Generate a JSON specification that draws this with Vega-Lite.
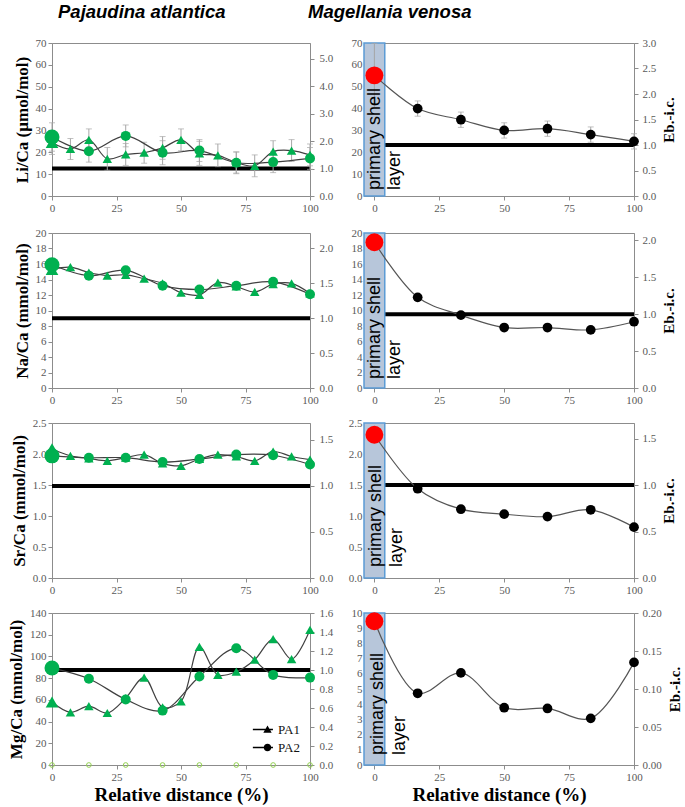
{
  "$schema": "https://vega.github.io/schema/vega-lite/v6.json",
  "background": "white",
  "padding": {"left": 6, "top": 2, "right": 0, "bottom": 0},
  "datasets": {
    "pa": [
      {"el":"Li","s":"PA1","x":0,"v":24.5,"lo":19,"hi":30},
      {"el":"Li","s":"PA1","x":7.14,"v":21.5,"lo":16.7,"hi":26.3},
      {"el":"Li","s":"PA1","x":14.29,"v":25.7,"lo":20.7,"hi":30.7},
      {"el":"Li","s":"PA1","x":21.43,"v":17,"lo":11.8,"hi":22.2},
      {"el":"Li","s":"PA1","x":28.57,"v":19,"lo":14,"hi":24},
      {"el":"Li","s":"PA1","x":35.71,"v":19.8,"lo":15,"hi":24.6},
      {"el":"Li","s":"PA1","x":42.86,"v":22,"lo":16.8,"hi":27.2},
      {"el":"Li","s":"PA1","x":50,"v":25.7,"lo":20.7,"hi":30.7},
      {"el":"Li","s":"PA1","x":57.14,"v":19.5,"lo":14,"hi":25},
      {"el":"Li","s":"PA1","x":64.29,"v":18.6,"lo":13.4,"hi":23.8},
      {"el":"Li","s":"PA1","x":71.43,"v":15.3,"lo":10.5,"hi":20.1},
      {"el":"Li","s":"PA1","x":78.57,"v":13.8,"lo":8.8,"hi":18.8},
      {"el":"Li","s":"PA1","x":85.71,"v":20.3,"lo":15.3,"hi":25.3},
      {"el":"Li","s":"PA1","x":92.86,"v":20.8,"lo":15.8,"hi":25.8},
      {"el":"Li","s":"PA1","x":100,"v":18.8,"lo":13.8,"hi":23.8},
      {"el":"Li","s":"PA2","x":0,"v":27,"lo":20.5,"hi":33.5},
      {"el":"Li","s":"PA2","x":14.29,"v":20.5,"lo":15.5,"hi":25.5},
      {"el":"Li","s":"PA2","x":28.57,"v":27.5,"lo":22.5,"hi":32.5},
      {"el":"Li","s":"PA2","x":42.86,"v":19.8,"lo":14.3,"hi":25.3},
      {"el":"Li","s":"PA2","x":57.14,"v":20.8,"lo":15.8,"hi":25.8},
      {"el":"Li","s":"PA2","x":71.43,"v":15.2,"lo":10.2,"hi":20.2},
      {"el":"Li","s":"PA2","x":85.71,"v":15.5,"lo":10.7,"hi":20.3},
      {"el":"Li","s":"PA2","x":100,"v":17.2,"lo":12.2,"hi":22.2},
      {"el":"Na","s":"PA1","x":0,"v":15.3},
      {"el":"Na","s":"PA1","x":7.14,"v":15.6},
      {"el":"Na","s":"PA1","x":14.29,"v":14.9},
      {"el":"Na","s":"PA1","x":21.43,"v":14.5},
      {"el":"Na","s":"PA1","x":28.57,"v":14.6},
      {"el":"Na","s":"PA1","x":35.71,"v":14.1},
      {"el":"Na","s":"PA1","x":42.86,"v":13.5},
      {"el":"Na","s":"PA1","x":50,"v":12.3},
      {"el":"Na","s":"PA1","x":57.14,"v":12.0},
      {"el":"Na","s":"PA1","x":64.29,"v":13.6},
      {"el":"Na","s":"PA1","x":71.43,"v":13.1},
      {"el":"Na","s":"PA1","x":78.57,"v":12.4},
      {"el":"Na","s":"PA1","x":85.71,"v":13.4},
      {"el":"Na","s":"PA1","x":92.86,"v":13.5},
      {"el":"Na","s":"PA1","x":100,"v":12.2},
      {"el":"Na","s":"PA2","x":0,"v":15.9},
      {"el":"Na","s":"PA2","x":14.29,"v":14.5},
      {"el":"Na","s":"PA2","x":28.57,"v":15.2},
      {"el":"Na","s":"PA2","x":42.86,"v":13.2},
      {"el":"Na","s":"PA2","x":57.14,"v":12.7},
      {"el":"Na","s":"PA2","x":71.43,"v":13.2},
      {"el":"Na","s":"PA2","x":85.71,"v":13.7},
      {"el":"Na","s":"PA2","x":100,"v":12.1},
      {"el":"Sr","s":"PA1","x":0,"v":2.08},
      {"el":"Sr","s":"PA1","x":7.14,"v":1.97},
      {"el":"Sr","s":"PA1","x":14.29,"v":1.93},
      {"el":"Sr","s":"PA1","x":21.43,"v":1.89},
      {"el":"Sr","s":"PA1","x":28.57,"v":1.94},
      {"el":"Sr","s":"PA1","x":35.71,"v":1.99},
      {"el":"Sr","s":"PA1","x":42.86,"v":1.85},
      {"el":"Sr","s":"PA1","x":50,"v":1.81},
      {"el":"Sr","s":"PA1","x":57.14,"v":1.92},
      {"el":"Sr","s":"PA1","x":64.29,"v":1.99},
      {"el":"Sr","s":"PA1","x":71.43,"v":1.96},
      {"el":"Sr","s":"PA1","x":78.57,"v":1.89},
      {"el":"Sr","s":"PA1","x":85.71,"v":2.04},
      {"el":"Sr","s":"PA1","x":92.86,"v":1.96},
      {"el":"Sr","s":"PA1","x":100,"v":1.91},
      {"el":"Sr","s":"PA2","x":0,"v":1.97},
      {"el":"Sr","s":"PA2","x":14.29,"v":1.94},
      {"el":"Sr","s":"PA2","x":28.57,"v":1.94},
      {"el":"Sr","s":"PA2","x":42.86,"v":1.87},
      {"el":"Sr","s":"PA2","x":57.14,"v":1.92},
      {"el":"Sr","s":"PA2","x":71.43,"v":1.99},
      {"el":"Sr","s":"PA2","x":85.71,"v":1.98},
      {"el":"Sr","s":"PA2","x":100,"v":1.83},
      {"el":"Mg","s":"PA1","x":0,"v":58},
      {"el":"Mg","s":"PA1","x":7.14,"v":48.5},
      {"el":"Mg","s":"PA1","x":14.29,"v":54.2},
      {"el":"Mg","s":"PA1","x":21.43,"v":47.9},
      {"el":"Mg","s":"PA1","x":28.57,"v":61.7},
      {"el":"Mg","s":"PA1","x":35.71,"v":80.5},
      {"el":"Mg","s":"PA1","x":42.86,"v":53.2},
      {"el":"Mg","s":"PA1","x":50,"v":58.6},
      {"el":"Mg","s":"PA1","x":57.14,"v":108.7},
      {"el":"Mg","s":"PA1","x":64.29,"v":83},
      {"el":"Mg","s":"PA1","x":71.43,"v":86},
      {"el":"Mg","s":"PA1","x":78.57,"v":97},
      {"el":"Mg","s":"PA1","x":85.71,"v":116},
      {"el":"Mg","s":"PA1","x":92.86,"v":97.5},
      {"el":"Mg","s":"PA1","x":100,"v":124.5},
      {"el":"Mg","s":"PA2","x":0,"v":89.3},
      {"el":"Mg","s":"PA2","x":14.29,"v":79.5},
      {"el":"Mg","s":"PA2","x":28.57,"v":60.4},
      {"el":"Mg","s":"PA2","x":42.86,"v":50.1},
      {"el":"Mg","s":"PA2","x":57.14,"v":81.5},
      {"el":"Mg","s":"PA2","x":71.43,"v":107.5},
      {"el":"Mg","s":"PA2","x":85.71,"v":83},
      {"el":"Mg","s":"PA2","x":100,"v":80.5}
    ],
    "mgzero": [
      {"x":0,"v":0},{"x":14.29,"v":0},{"x":28.57,"v":0},{"x":42.86,"v":0},
      {"x":57.14,"v":0},{"x":71.43,"v":0},{"x":85.71,"v":0},{"x":100,"v":0}
    ],
    "mv": [
      {"el":"Li","x":0,"v":55.2,"lo":40.5,"hi":69.8},
      {"el":"Li","x":16.67,"v":40,"lo":36.5,"hi":43.5},
      {"el":"Li","x":33.33,"v":34.9,"lo":31.4,"hi":38.4},
      {"el":"Li","x":50,"v":30,"lo":26.5,"hi":33.5},
      {"el":"Li","x":66.67,"v":30.8,"lo":27.3,"hi":34.3},
      {"el":"Li","x":83.33,"v":28.1,"lo":24.6,"hi":31.6},
      {"el":"Li","x":100,"v":25,"lo":21.5,"hi":28.5},
      {"el":"Na","x":0,"v":18.8},
      {"el":"Na","x":16.67,"v":11.7},
      {"el":"Na","x":33.33,"v":9.4},
      {"el":"Na","x":50,"v":7.8},
      {"el":"Na","x":66.67,"v":7.8},
      {"el":"Na","x":83.33,"v":7.5},
      {"el":"Na","x":100,"v":8.55},
      {"el":"Sr","x":0,"v":2.31},
      {"el":"Sr","x":16.67,"v":1.44},
      {"el":"Sr","x":33.33,"v":1.11},
      {"el":"Sr","x":50,"v":1.03},
      {"el":"Sr","x":66.67,"v":0.99},
      {"el":"Sr","x":83.33,"v":1.10},
      {"el":"Sr","x":100,"v":0.82},
      {"el":"Mg","x":0,"v":9.46},
      {"el":"Mg","x":16.67,"v":4.72},
      {"el":"Mg","x":33.33,"v":6.06},
      {"el":"Mg","x":50,"v":3.77},
      {"el":"Mg","x":66.67,"v":3.72},
      {"el":"Mg","x":83.33,"v":3.07},
      {"el":"Mg","x":100,"v":6.75}
    ],
    "eline": [{"E": 1}],
    "box": [{"x0": -4, "x1": 4}],
    "lab1": [{"t": "primary shell"}],
    "lab2": [{"t": "layer"}]
  },
  "bounds": "flush",
  "align": "all",
  "columns": 2,
  "spacing": {"row": 35, "column": 42},
  "resolve": {"scale": {"shape": "independent"}, "legend": {"shape": "independent"}},
  "concat": [
    {
      "width": 258, "height": 153,
      "title": {"text": "Pajaudina atlantica", "anchor": "start", "frame": "group", "dx": 6, "offset": 16},
      "layer": [
        {"data": {"name": "eline"}, "mark": {"type": "rule", "color": "#000", "strokeWidth": 4, "clip": true},
         "encoding": {"y": {"field": "E", "type": "quantitative", "scale": {"domain": [0, 5.57], "nice": false}, "axis": {"orient": "right", "values": [0,1,2,3,4,5], "format": ".1f", "title": null, "labelPadding": 5, "tickCount": 50}}}},
        {"data": {"name": "pa"}, "transform": [{"filter": "datum.el === 'Li'"}],
         "encoding": {"x": {"field": "x", "type": "quantitative", "scale": {"domain": [0, 100], "nice": false}, "axis": {"values": [0,25,50,75,100], "format": "d", "title": null, "tickCount": 50}}},
         "layer": [
           {"mark": {"type": "errorbar", "color": "#a6a6a6", "ticks": {"size": 6}}, "encoding": {"y": {"field": "lo", "type": "quantitative", "title": "Li/Ca (µmol/mol)"}, "y2": {"field": "hi"}}},
           {"mark": {"type": "line", "interpolate": "catmull-rom", "color": "#404040", "strokeWidth": 1.2}, "encoding": {"y": {"field": "v", "type": "quantitative", "title": "Li/Ca (µmol/mol)", "scale": {"domain": [0, 70], "nice": false}, "axis": {"orient": "left", "values": [0,10,20,30,40,50,60,70], "format": "d", "tickCount": 50}}, "detail": {"field": "s"}}},
           {"transform": [{"filter": "datum.s === 'PA1' && datum.x > 0"}], "mark": {"type": "point", "shape": "triangle-up", "filled": true, "color": "#00b050", "opacity": 1, "size": 90}, "encoding": {"y": {"field": "v", "type": "quantitative", "title": "Li/Ca (µmol/mol)"}}},
           {"transform": [{"filter": "datum.s === 'PA2' && datum.x > 0"}], "mark": {"type": "point", "shape": "circle", "filled": true, "color": "#00b050", "opacity": 1, "size": 100}, "encoding": {"y": {"field": "v", "type": "quantitative", "title": "Li/Ca (µmol/mol)"}}},
           {"transform": [{"filter": "datum.s === 'PA1' && datum.x === 0"}], "mark": {"type": "point", "shape": "triangle-up", "filled": true, "color": "#00b050", "opacity": 1, "size": 160}, "encoding": {"y": {"field": "v", "type": "quantitative", "title": "Li/Ca (µmol/mol)"}}},
           {"transform": [{"filter": "datum.s === 'PA2' && datum.x === 0"}], "mark": {"type": "point", "shape": "circle", "filled": true, "color": "#00b050", "opacity": 1, "size": 225}, "encoding": {"y": {"field": "v", "type": "quantitative", "title": "Li/Ca (µmol/mol)"}}}
         ]}
      ],
      "resolve": {"scale": {"y": "independent"}}
    },
    {
      "width": 270, "height": 153,
      "title": {"text": "Magellania venosa", "anchor": "start", "frame": "group", "dx": -56, "offset": 16},
      "layer": [
        {"data": {"name": "eline"}, "mark": {"type": "rule", "color": "#000", "strokeWidth": 4, "clip": true},
         "encoding": {"y": {"field": "E", "type": "quantitative", "scale": {"domain": [0, 3], "nice": false}, "axis": {"orient": "right", "values": [0,0.5,1,1.5,2,2.5,3], "format": ".1f", "title": "Eb.-i.c.", "titleAngle": 270, "titleBaseline": "top", "titleFontSize": 15, "titlePadding": 6, "labelPadding": 4, "tickCount": 50}}}},
        {"layer": [
          {"data": {"name": "box"}, "mark": {"type": "rect", "fill": "#b7c6da", "stroke": "#5b9bd5", "strokeWidth": 1.5}, "encoding": {"x": {"field": "x0", "type": "quantitative", "scale": {"domain": [-4, 100], "nice": false, "zero": false}, "axis": {"values": [0,25,50,75,100], "format": "d", "title": null, "tickCount": 50}}, "x2": {"field": "x1"}}},
          {"data": {"name": "mv"}, "transform": [{"filter": "datum.el === 'Li'"}],
           "encoding": {"x": {"field": "x", "type": "quantitative"}},
           "layer": [
             {"mark": {"type": "errorbar", "color": "#a6a6a6", "ticks": {"size": 6}}, "encoding": {"y": {"field": "lo", "type": "quantitative", "title": null}, "y2": {"field": "hi"}}},
             {"mark": {"type": "line", "interpolate": "catmull-rom", "color": "#555", "strokeWidth": 1.2}, "encoding": {"y": {"field": "v", "type": "quantitative", "title": null, "scale": {"domain": [0, 70], "nice": false}, "axis": {"orient": "left", "values": [0,10,20,30,40,50,60,70], "format": "d", "ticks": false, "labelPadding": 2, "tickCount": 50}}}},
             {"transform": [{"filter": "datum.x > 0"}], "mark": {"type": "point", "shape": "circle", "filled": true, "color": "#000", "opacity": 1, "size": 95}, "encoding": {"y": {"field": "v", "type": "quantitative", "title": null}}},
             {"transform": [{"filter": "datum.x === 0"}], "mark": {"type": "point", "shape": "circle", "filled": true, "color": "#ff0000", "opacity": 1, "size": 320}, "encoding": {"y": {"field": "v", "type": "quantitative", "title": null}}}
           ]},
          {"data": {"name": "lab1"}, "mark": {"type": "text", "angle": 270, "align": "left", "baseline": "middle", "font": "Liberation Sans", "fontSize": 18, "color": "#000", "dx": 6, "dy": 1}, "encoding": {"x": {"datum": 0, "type": "quantitative"}, "y": {"datum": 0, "type": "quantitative"}, "text": {"field": "t"}}},
          {"data": {"name": "lab2"}, "mark": {"type": "text", "angle": 270, "align": "left", "baseline": "middle", "font": "Liberation Sans", "fontSize": 18, "color": "#000", "dx": 6, "dy": 21}, "encoding": {"x": {"datum": 0, "type": "quantitative"}, "y": {"datum": 0, "type": "quantitative"}, "text": {"field": "t"}}}
        ]}
      ],
      "resolve": {"scale": {"y": "independent"}}
    },
    {
      "width": 258, "height": 155,
      "layer": [
        {"data": {"name": "eline"}, "mark": {"type": "rule", "color": "#000", "strokeWidth": 4, "clip": true},
         "encoding": {"y": {"field": "E", "type": "quantitative", "scale": {"domain": [0, 2.22], "nice": false}, "axis": {"orient": "right", "values": [0,0.5,1,1.5,2], "format": ".1f", "title": null, "labelPadding": 5, "tickCount": 50}}}},
        {"data": {"name": "pa"}, "transform": [{"filter": "datum.el === 'Na'"}],
         "encoding": {"x": {"field": "x", "type": "quantitative", "scale": {"domain": [0, 100], "nice": false}, "axis": {"values": [0,25,50,75,100], "format": "d", "title": null, "tickCount": 50}}},
         "layer": [
           {"mark": {"type": "line", "interpolate": "catmull-rom", "color": "#404040", "strokeWidth": 1.2}, "encoding": {"y": {"field": "v", "type": "quantitative", "title": "Na/Ca (mmol/mol)", "scale": {"domain": [0, 20], "nice": false}, "axis": {"orient": "left", "values": [0,2,4,6,8,10,12,14,16,18,20], "format": "d", "tickCount": 50}}, "detail": {"field": "s"}}},
           {"transform": [{"filter": "datum.s === 'PA1' && datum.x > 0"}], "mark": {"type": "point", "shape": "triangle-up", "filled": true, "color": "#00b050", "opacity": 1, "size": 90}, "encoding": {"y": {"field": "v", "type": "quantitative", "title": "Na/Ca (mmol/mol)"}}},
           {"transform": [{"filter": "datum.s === 'PA2' && datum.x > 0"}], "mark": {"type": "point", "shape": "circle", "filled": true, "color": "#00b050", "opacity": 1, "size": 100}, "encoding": {"y": {"field": "v", "type": "quantitative", "title": "Na/Ca (mmol/mol)"}}},
           {"transform": [{"filter": "datum.s === 'PA1' && datum.x === 0"}], "mark": {"type": "point", "shape": "triangle-up", "filled": true, "color": "#00b050", "opacity": 1, "size": 160}, "encoding": {"y": {"field": "v", "type": "quantitative", "title": "Na/Ca (mmol/mol)"}}},
           {"transform": [{"filter": "datum.s === 'PA2' && datum.x === 0"}], "mark": {"type": "point", "shape": "circle", "filled": true, "color": "#00b050", "opacity": 1, "size": 225}, "encoding": {"y": {"field": "v", "type": "quantitative", "title": "Na/Ca (mmol/mol)"}}}
         ]}
      ],
      "resolve": {"scale": {"y": "independent"}}
    },
    {
      "width": 270, "height": 155,
      "layer": [
        {"data": {"name": "eline"}, "mark": {"type": "rule", "color": "#000", "strokeWidth": 4, "clip": true},
         "encoding": {"y": {"field": "E", "type": "quantitative", "scale": {"domain": [0, 2.1], "nice": false}, "axis": {"orient": "right", "values": [0,0.5,1,1.5,2], "format": ".1f", "title": "Eb.-i.c.", "titleAngle": 270, "titleBaseline": "top", "titleFontSize": 15, "titlePadding": 6, "labelPadding": 4, "tickCount": 50}}}},
        {"layer": [
          {"data": {"name": "box"}, "mark": {"type": "rect", "fill": "#b7c6da", "stroke": "#5b9bd5", "strokeWidth": 1.5}, "encoding": {"x": {"field": "x0", "type": "quantitative", "scale": {"domain": [-4, 100], "nice": false, "zero": false}, "axis": {"values": [0,25,50,75,100], "format": "d", "title": null, "tickCount": 50}}, "x2": {"field": "x1"}}},
          {"data": {"name": "mv"}, "transform": [{"filter": "datum.el === 'Na'"}],
           "encoding": {"x": {"field": "x", "type": "quantitative"}},
           "layer": [
             {"mark": {"type": "line", "interpolate": "catmull-rom", "color": "#555", "strokeWidth": 1.2}, "encoding": {"y": {"field": "v", "type": "quantitative", "title": null, "scale": {"domain": [0, 20], "nice": false}, "axis": {"orient": "left", "values": [0,2,4,6,8,10,12,14,16,18,20], "format": "d", "ticks": false, "labelPadding": 2, "tickCount": 50}}}},
             {"transform": [{"filter": "datum.x > 0"}], "mark": {"type": "point", "shape": "circle", "filled": true, "color": "#000", "opacity": 1, "size": 95}, "encoding": {"y": {"field": "v", "type": "quantitative", "title": null}}},
             {"transform": [{"filter": "datum.x === 0"}], "mark": {"type": "point", "shape": "circle", "filled": true, "color": "#ff0000", "opacity": 1, "size": 320}, "encoding": {"y": {"field": "v", "type": "quantitative", "title": null}}}
           ]},
          {"data": {"name": "lab1"}, "mark": {"type": "text", "angle": 270, "align": "left", "baseline": "middle", "font": "Liberation Sans", "fontSize": 18, "color": "#000", "dx": 9, "dy": 1}, "encoding": {"x": {"datum": 0, "type": "quantitative"}, "y": {"datum": 0, "type": "quantitative"}, "text": {"field": "t"}}},
          {"data": {"name": "lab2"}, "mark": {"type": "text", "angle": 270, "align": "left", "baseline": "middle", "font": "Liberation Sans", "fontSize": 18, "color": "#000", "dx": 9, "dy": 21}, "encoding": {"x": {"datum": 0, "type": "quantitative"}, "y": {"datum": 0, "type": "quantitative"}, "text": {"field": "t"}}}
        ]}
      ],
      "resolve": {"scale": {"y": "independent"}}
    },
    {
      "width": 258, "height": 155,
      "layer": [
        {"data": {"name": "eline"}, "mark": {"type": "rule", "color": "#000", "strokeWidth": 4, "clip": true},
         "encoding": {"y": {"field": "E", "type": "quantitative", "scale": {"domain": [0, 1.684], "nice": false}, "axis": {"orient": "right", "values": [0,0.5,1,1.5], "format": ".1f", "title": null, "labelPadding": 5, "tickCount": 50}}}},
        {"data": {"name": "pa"}, "transform": [{"filter": "datum.el === 'Sr'"}],
         "encoding": {"x": {"field": "x", "type": "quantitative", "scale": {"domain": [0, 100], "nice": false}, "axis": {"values": [0,25,50,75,100], "format": "d", "title": null, "tickCount": 50}}},
         "layer": [
           {"mark": {"type": "line", "interpolate": "catmull-rom", "color": "#404040", "strokeWidth": 1.2}, "encoding": {"y": {"field": "v", "type": "quantitative", "title": "Sr/Ca (mmol/mol)", "scale": {"domain": [0, 2.5], "nice": false}, "axis": {"orient": "left", "values": [0,0.5,1,1.5,2,2.5], "format": ".1f", "tickCount": 50}}, "detail": {"field": "s"}}},
           {"transform": [{"filter": "datum.s === 'PA1' && datum.x > 0"}], "mark": {"type": "point", "shape": "triangle-up", "filled": true, "color": "#00b050", "opacity": 1, "size": 90}, "encoding": {"y": {"field": "v", "type": "quantitative", "title": "Sr/Ca (mmol/mol)"}}},
           {"transform": [{"filter": "datum.s === 'PA2' && datum.x > 0"}], "mark": {"type": "point", "shape": "circle", "filled": true, "color": "#00b050", "opacity": 1, "size": 100}, "encoding": {"y": {"field": "v", "type": "quantitative", "title": "Sr/Ca (mmol/mol)"}}},
           {"transform": [{"filter": "datum.s === 'PA2' && datum.x === 0"}], "mark": {"type": "point", "shape": "circle", "filled": true, "color": "#00b050", "opacity": 1, "size": 225}, "encoding": {"y": {"field": "v", "type": "quantitative", "title": "Sr/Ca (mmol/mol)"}}},
           {"transform": [{"filter": "datum.s === 'PA1' && datum.x === 0"}], "mark": {"type": "point", "shape": "triangle-up", "filled": true, "color": "#00b050", "opacity": 1, "size": 180}, "encoding": {"y": {"field": "v", "type": "quantitative", "title": "Sr/Ca (mmol/mol)"}}}
         ]}
      ],
      "resolve": {"scale": {"y": "independent"}}
    },
    {
      "width": 270, "height": 155,
      "layer": [
        {"data": {"name": "eline"}, "mark": {"type": "rule", "color": "#000", "strokeWidth": 4, "clip": true},
         "encoding": {"y": {"field": "E", "type": "quantitative", "scale": {"domain": [0, 1.667], "nice": false}, "axis": {"orient": "right", "values": [0,0.5,1,1.5], "format": ".1f", "title": "Eb.-i.c.", "titleAngle": 270, "titleBaseline": "top", "titleFontSize": 15, "titlePadding": 6, "labelPadding": 4, "tickCount": 50}}}},
        {"layer": [
          {"data": {"name": "box"}, "mark": {"type": "rect", "fill": "#b7c6da", "stroke": "#5b9bd5", "strokeWidth": 1.5}, "encoding": {"x": {"field": "x0", "type": "quantitative", "scale": {"domain": [-4, 100], "nice": false, "zero": false}, "axis": {"values": [0,25,50,75,100], "format": "d", "title": null, "tickCount": 50}}, "x2": {"field": "x1"}}},
          {"data": {"name": "mv"}, "transform": [{"filter": "datum.el === 'Sr'"}],
           "encoding": {"x": {"field": "x", "type": "quantitative"}},
           "layer": [
             {"mark": {"type": "line", "interpolate": "catmull-rom", "color": "#555", "strokeWidth": 1.2}, "encoding": {"y": {"field": "v", "type": "quantitative", "title": null, "scale": {"domain": [0, 2.5], "nice": false}, "axis": {"orient": "left", "values": [0,0.5,1,1.5,2,2.5], "format": ".1f", "ticks": false, "labelPadding": 2, "tickCount": 50}}}},
             {"transform": [{"filter": "datum.x > 0"}], "mark": {"type": "point", "shape": "circle", "filled": true, "color": "#000", "opacity": 1, "size": 95}, "encoding": {"y": {"field": "v", "type": "quantitative", "title": null}}},
             {"transform": [{"filter": "datum.x === 0"}], "mark": {"type": "point", "shape": "circle", "filled": true, "color": "#ff0000", "opacity": 1, "size": 320}, "encoding": {"y": {"field": "v", "type": "quantitative", "title": null}}}
           ]},
          {"data": {"name": "lab1"}, "mark": {"type": "text", "angle": 270, "align": "left", "baseline": "middle", "font": "Liberation Sans", "fontSize": 18, "color": "#000", "dx": 11, "dy": 2}, "encoding": {"x": {"datum": 0, "type": "quantitative"}, "y": {"datum": 0, "type": "quantitative"}, "text": {"field": "t"}}},
          {"data": {"name": "lab2"}, "mark": {"type": "text", "angle": 270, "align": "left", "baseline": "middle", "font": "Liberation Sans", "fontSize": 18, "color": "#000", "dx": 11, "dy": 23}, "encoding": {"x": {"datum": 0, "type": "quantitative"}, "y": {"datum": 0, "type": "quantitative"}, "text": {"field": "t"}}}
        ]}
      ],
      "resolve": {"scale": {"y": "independent"}}
    },
    {
      "width": 258, "height": 152,
      "layer": [
        {"data": {"name": "eline"}, "mark": {"type": "rule", "color": "#000", "strokeWidth": 4, "clip": true},
         "encoding": {"y": {"field": "E", "type": "quantitative", "scale": {"domain": [0, 1.6], "nice": false}, "axis": {"orient": "right", "values": [0,0.2,0.4,0.6,0.8,1,1.2,1.4,1.6], "format": ".1f", "title": null, "labelPadding": 5, "tickCount": 50}}}},
        {"data": {"name": "pa"}, "transform": [{"filter": "datum.el === 'Mg'"}],
         "encoding": {"x": {"field": "x", "type": "quantitative", "scale": {"domain": [0, 100], "nice": false}, "axis": {"values": [0,25,50,75,100], "format": "d", "title": "Relative distance (%)", "titleFontSize": 19, "titlePadding": 3, "tickCount": 50}}},
         "layer": [
           {"mark": {"type": "line", "interpolate": "catmull-rom", "color": "#404040", "strokeWidth": 1.2}, "encoding": {"y": {"field": "v", "type": "quantitative", "title": "Mg/Ca (mmol/mol)", "scale": {"domain": [0, 140], "nice": false}, "axis": {"orient": "left", "values": [0,20,40,60,80,100,120,140], "format": "d", "tickCount": 50}}, "detail": {"field": "s"}}},
           {"data": {"name": "mgzero"}, "mark": {"type": "point", "shape": "circle", "filled": false, "color": "#92d050", "opacity": 1, "size": 22, "strokeWidth": 1}, "encoding": {"x": {"field": "x", "type": "quantitative"}, "y": {"field": "v", "type": "quantitative", "title": "Mg/Ca (mmol/mol)"}}},
           {"transform": [{"filter": "datum.s === 'PA1' && datum.x > 0"}], "mark": {"type": "point", "shape": "triangle-up", "filled": true, "color": "#00b050", "opacity": 1, "size": 90}, "encoding": {"y": {"field": "v", "type": "quantitative", "title": "Mg/Ca (mmol/mol)"}}},
           {"transform": [{"filter": "datum.s === 'PA2' && datum.x > 0"}], "mark": {"type": "point", "shape": "circle", "filled": true, "color": "#00b050", "opacity": 1, "size": 100}, "encoding": {"y": {"field": "v", "type": "quantitative", "title": "Mg/Ca (mmol/mol)"}}},
           {"transform": [{"filter": "datum.s === 'PA1' && datum.x === 0"}], "mark": {"type": "point", "shape": "triangle-up", "filled": true, "color": "#00b050", "opacity": 1, "size": 160}, "encoding": {"y": {"field": "v", "type": "quantitative", "title": "Mg/Ca (mmol/mol)"}}},
           {"transform": [{"filter": "datum.s === 'PA2' && datum.x === 0"}], "mark": {"type": "point", "shape": "circle", "filled": true, "color": "#00b050", "opacity": 1, "size": 225}, "encoding": {"y": {"field": "v", "type": "quantitative", "title": "Mg/Ca (mmol/mol)"}}},
           {"transform": [{"filter": "datum.x < 0"}], "mark": {"type": "point", "filled": true, "color": "#000", "opacity": 1, "size": 70},
            "encoding": {"y": {"field": "v", "type": "quantitative", "title": "Mg/Ca (mmol/mol)"},
              "shape": {"field": "s", "type": "nominal",
                "scale": {"domain": ["PA1", "PA2"], "range": ["M-3.5,-0.16L1.3,-0.16L1.3,0.16L-3.5,0.16ZM-1,0.8L0,-0.95L1,0.8Z", "M-3.5,-0.16L1.3,-0.16L1.3,0.16L-3.5,0.16ZM0.9,0A0.9,0.9,0,1,1,-0.9,0A0.9,0.9,0,1,1,0.9,0Z"]},
                "legend": {"title": null, "orient": "bottom-right", "offset": 10, "padding": 0, "labelFont": "Liberation Serif", "labelFontSize": 13, "labelColor": "#111", "symbolSize": 70, "symbolFillColor": "#000", "symbolStrokeColor": "#000", "symbolStrokeWidth": 0.5, "symbolOpacity": 1, "rowPadding": 4, "labelOffset": 4}}}}
         ]}
      ],
      "resolve": {"scale": {"y": "independent"}}
    },
    {
      "width": 270, "height": 152,
      "layer": [
        {"data": {"name": "eline"}, "mark": {"type": "rule", "color": "#000", "strokeWidth": 4, "clip": true},
         "encoding": {"y": {"field": "E", "type": "quantitative", "scale": {"domain": [0, 0.2], "nice": false}, "axis": {"orient": "right", "values": [0,0.05,0.1,0.15,0.2], "format": ".2f", "title": "Eb.-i.c.", "titleAngle": 270, "titleBaseline": "top", "titleFontSize": 15, "titlePadding": 6, "labelPadding": 4, "tickCount": 50}}}},
        {"layer": [
          {"data": {"name": "box"}, "mark": {"type": "rect", "fill": "#b7c6da", "stroke": "#5b9bd5", "strokeWidth": 1.5}, "encoding": {"x": {"field": "x0", "type": "quantitative", "scale": {"domain": [-4, 100], "nice": false, "zero": false}, "axis": {"values": [0,25,50,75,100], "format": "d", "title": "Relative distance (%)", "titleFontSize": 19, "titlePadding": 3, "tickCount": 50}}, "x2": {"field": "x1"}}},
          {"data": {"name": "mv"}, "transform": [{"filter": "datum.el === 'Mg'"}],
           "encoding": {"x": {"field": "x", "type": "quantitative"}},
           "layer": [
             {"mark": {"type": "line", "interpolate": "catmull-rom", "color": "#555", "strokeWidth": 1.2}, "encoding": {"y": {"field": "v", "type": "quantitative", "title": null, "scale": {"domain": [0, 10], "nice": false}, "axis": {"orient": "left", "values": [0,1,2,3,4,5,6,7,8,9,10], "format": "d", "ticks": false, "labelPadding": 2, "tickCount": 50}}}},
             {"transform": [{"filter": "datum.x > 0"}], "mark": {"type": "point", "shape": "circle", "filled": true, "color": "#000", "opacity": 1, "size": 95}, "encoding": {"y": {"field": "v", "type": "quantitative", "title": null}}},
             {"transform": [{"filter": "datum.x === 0"}], "mark": {"type": "point", "shape": "circle", "filled": true, "color": "#ff0000", "opacity": 1, "size": 320}, "encoding": {"y": {"field": "v", "type": "quantitative", "title": null}}}
           ]},
          {"data": {"name": "lab1"}, "mark": {"type": "text", "angle": 270, "align": "left", "baseline": "middle", "font": "Liberation Sans", "fontSize": 18, "color": "#000", "dx": 10, "dy": 4}, "encoding": {"x": {"datum": 0, "type": "quantitative"}, "y": {"datum": 0, "type": "quantitative"}, "text": {"field": "t"}}},
          {"data": {"name": "lab2"}, "mark": {"type": "text", "angle": 270, "align": "left", "baseline": "middle", "font": "Liberation Sans", "fontSize": 18, "color": "#000", "dx": 10, "dy": 26}, "encoding": {"x": {"datum": 0, "type": "quantitative"}, "y": {"datum": 0, "type": "quantitative"}, "text": {"field": "t"}}}
        ]}
      ],
      "resolve": {"scale": {"y": "independent"}}
    }
  ],
  "config": {
    "view": {"stroke": "#8c8c8c", "strokeWidth": 1},
    "axis": {"grid": false, "labelFont": "Liberation Serif", "labelFontSize": 11, "labelColor": "#595959", "titleFont": "Liberation Serif", "titleFontSize": 17, "titleFontWeight": "bold", "titleColor": "#000", "domainColor": "#8c8c8c", "tickColor": "#8c8c8c", "tickSize": 4, "labelPadding": 2, "titlePadding": 4, "labelFlush": false, "labelOverlap": false},
    "title": {"font": "Liberation Sans", "fontSize": 18.5, "fontWeight": "bold", "fontStyle": "italic", "color": "#000"}
  }
}
